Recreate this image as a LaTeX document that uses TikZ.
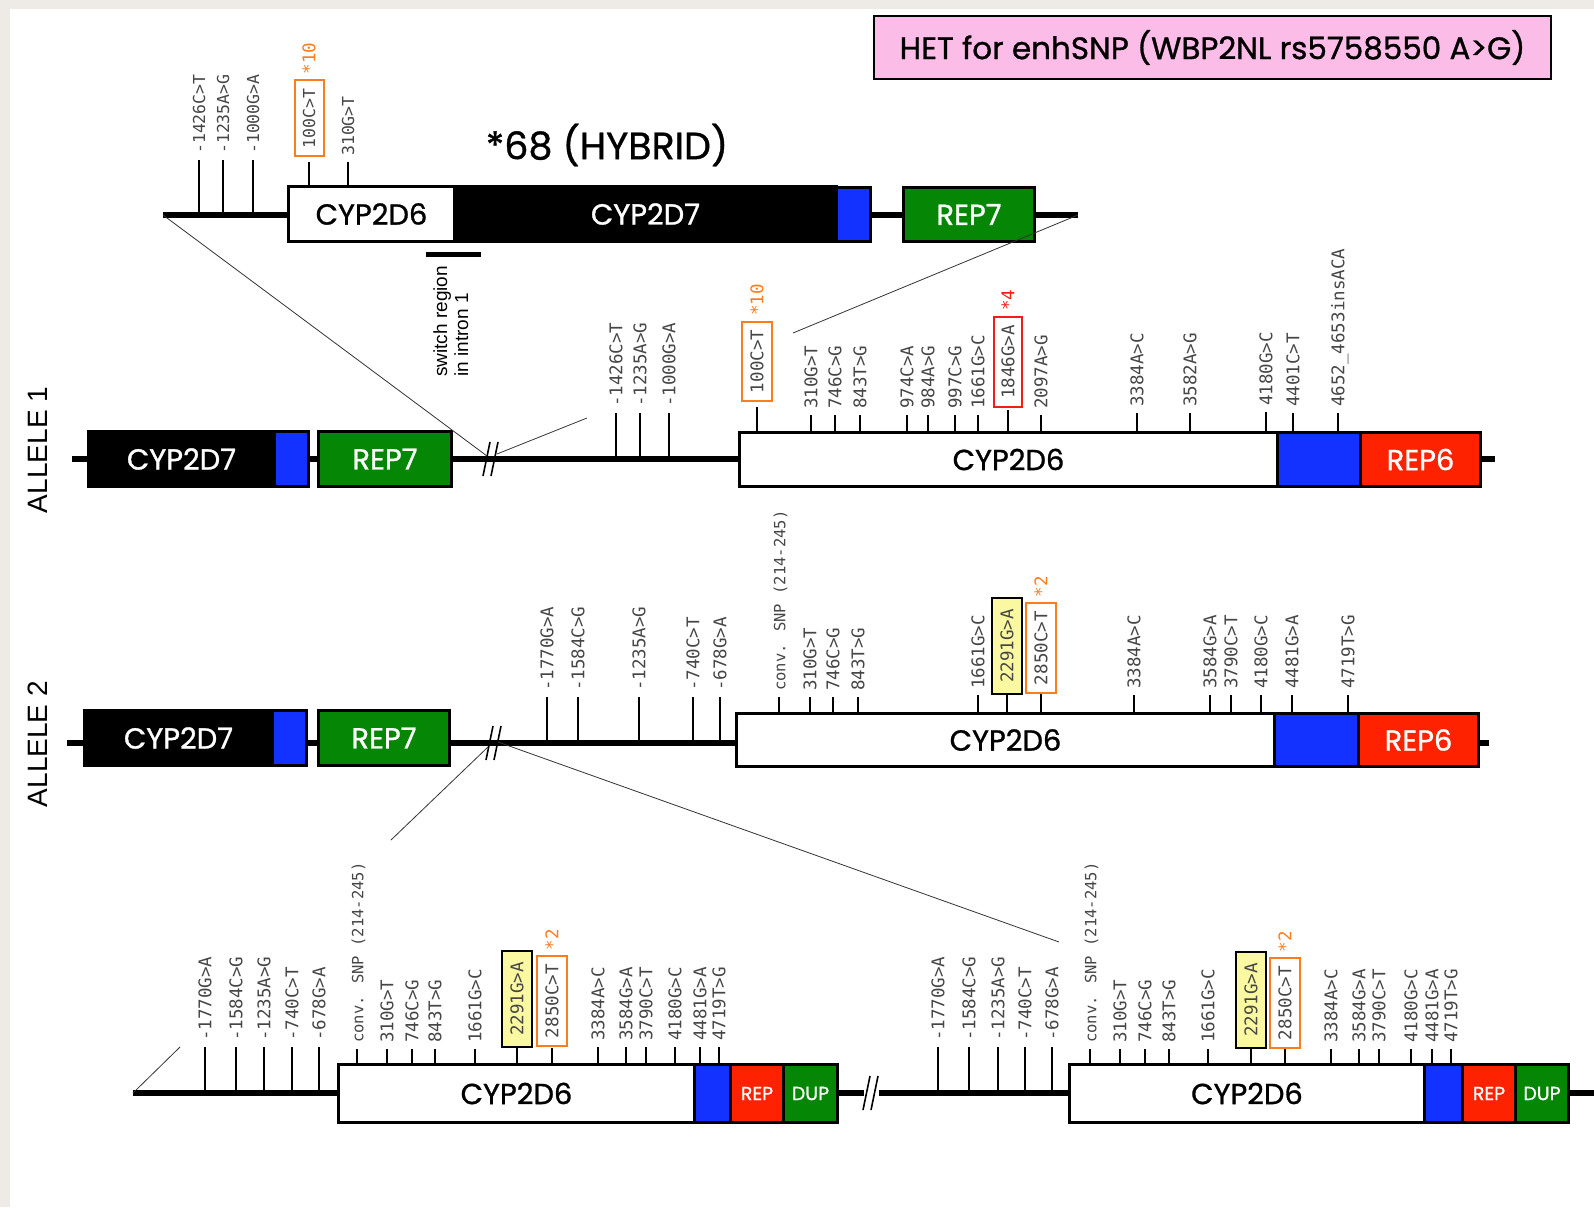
\documentclass[tikz,border=0pt]{standalone}
\usepackage{fontspec}
\newfontfamily\comic[FakeBold=1]{Poppins}
\newfontfamily\monof{DejaVu Sans Mono}
\newfontfamily\arialf{Liberation Sans}
\definecolor{blueC}{RGB}{20,50,255}
\definecolor{redC}{RGB}{255,34,0}
\definecolor{redB}{RGB}{240,30,20}
\definecolor{greenC}{RGB}{5,135,5}
\definecolor{orangeC}{RGB}{250,125,30}
\definecolor{yellowC}{RGB}{250,248,160}
\definecolor{pinkC}{RGB}{252,188,232}
\definecolor{labgray}{RGB}{70,70,70}
\definecolor{bgC}{RGB}{238,235,230}
\tikzset{
  backbone/.style={line width=5.5pt},
  conn/.style={line width=0.8pt, draw=black!80},
  tick/.style={line width=1.6pt},
  slash/.style={line width=1.6pt},
  snplab/.style={rotate=90, anchor=west, inner sep=0pt, text=labgray,
    font=\monof\fontsize{17.5}{17.5}\selectfont, text height=12.8pt, text depth=0pt},
  hfont/.style={font=\monof\fontsize{16.5}{16.5}\selectfont, text height=12pt},
  cfont/.style={font=\monof\fontsize{15.5}{15.5}\selectfont},
  starlab/.style={rotate=90, anchor=west, inner sep=0pt,
    font=\monof\fontsize{17.5}{17.5}\selectfont, text height=12.8pt, text depth=0pt},
  obox/.style={draw=orangeC, line width=2pt, inner xsep=8pt, inner ysep=8.5pt},
  rbox/.style={draw=redB, line width=2.2pt, inner xsep=8pt, inner ysep=7.5pt},
  ybox/.style={draw=black, fill=yellowC, line width=2.5pt, inner xsep=11pt, inner ysep=8.5pt},
  genebox/.style={draw=black, line width=3pt, inner sep=0pt, font=\comic\fontsize{29}{29}\selectfont},
  wbox/.style={genebox, fill=white},
  kbox/.style={genebox, fill=black, text=white},
  bbox/.style={genebox, fill=blueC},
  gbx/.style={genebox, fill=greenC, text=white},
  rbx/.style={genebox, fill=redC, text=white},
  smallg/.style={font=\comic\fontsize{19}{19}\selectfont},
  allele/.style={rotate=90, inner sep=0pt, font=\arialf\fontsize{28}{28}\selectfont},
  swlab/.style={rotate=90, anchor=base west, inner sep=0pt, font=\arialf\fontsize{19}{19}\selectfont}
}
\newcommand\gbox[7]{\node[#6, minimum width={(#4)-(#2)}, minimum height={(#5)-(#3)}, anchor=north west] (#1) at (#2,#3) {#7};}
\newcommand\snpA[4]{\draw[tick] (#1,#3) -- (#1,#2); \node[snplab] at (#1,#2-6) {#4};}
\newcommand\snpC[3]{\draw[tick] (#1,#3) -- (#1,#2); \node[snplab,cfont] at (#1,#2-6) {conv. SNP (214-245)};}
\newcommand\snpH[4]{\draw[tick] (#1,#3) -- (#1,#2); \node[snplab,hfont] at (#1,#2-6) {#4};}
\newcommand\snpB[6]{\draw[tick] (#1,#3) -- (#1,#2); \node[snplab,#5] (b#1) at (#1,#4) {#6};}
\newcommand\starB[3]{\node[starlab,text=#2] at ([yshift=5pt]b#1.east) {#3};}
\newcommand\slashes[2]{\draw[slash] (#1-8,#2+17) -- (#1-1,#2-17); \draw[slash] (#1,#2+17) -- (#1+7,#2-17);}
\begin{document}
\begin{tikzpicture}[x=1pt,y=-1pt]
\useasboundingbox (0,0) rectangle (1594,1207);
\fill[bgC] (0,0) rectangle (1594,1207);
\fill[white] (10,9) rectangle (1594,1207);

% ---------- header ----------
\node[draw, line width=2.5pt, fill=pinkC, minimum width=677pt, minimum height=63pt, inner sep=0pt,
  font=\comic\fontsize{31}{31}\selectfont] (het) at (1212.5,47.5) {HET for enhSNP (WBP2NL rs5758550 A>G)};
\node[font=\comic\fontsize{38}{38}\selectfont, inner sep=0pt] (title) at (607,145) {*68 (HYBRID)};

% ---------- hybrid ----------
\coordinate (hL) at (163,215);
\coordinate (hR) at (1078,215);
\draw[backbone] (hL) -- (hR);
\gbox{h6}{287}{185}{453}{240}{wbox}{CYP2D6}
\gbox{h7}{453}{185}{835}{240}{kbox}{CYP2D7}
\gbox{hb}{835}{186}{869}{240}{bbox}{}
\gbox{hrep}{902}{186}{1033}{240}{gbx}{REP7}
\snpH{199}{160}{215}{-1426C>T}
\snpH{223}{160}{215}{-1235A>G}
\snpH{253}{160}{215}{-1000G>A}
\snpH{348}{162}{185}{310G>T}
\draw[tick] (309,185) -- (309,162);
\node[snplab,hfont,obox,inner xsep=8pt,inner ysep=8.5pt] (b309) at (309,157) {100C>T};
\node[starlab,text=orangeC] at ([yshift=5pt]b309.east) {*10};
\draw[line width=5pt] (426,254.5) -- (481,254.5);
\node[swlab] (sw1) at (447,377) {switch region};
\node[swlab] (sw2) at (468,377) {in intron 1};

% ---------- allele 1 ----------
\node[allele] (al1) at (38,450) {ALLELE 1};
\coordinate (a1L) at (72,459);
\coordinate (a1R) at (1495,459);
\draw[backbone] (a1L) -- (a1R);
\gbox{a17}{87}{430}{273}{485}{kbox}{CYP2D7}
\gbox{a1b}{273}{430}{307}{485}{bbox}{}
\gbox{a1rep}{317}{430}{450}{485}{gbx}{REP7}
\gbox{a16}{738}{431}{1276}{485}{wbox}{CYP2D6}
\gbox{a1bb}{1276}{431}{1359}{485}{bbox}{}
\gbox{a1r6}{1359}{431}{1479}{485}{rbx}{REP6}
\slashes{491}{459}
\snpA{616}{413}{459}{-1426C>T}
\snpA{640}{413}{459}{-1235A>G}
\snpA{669}{413}{459}{-1000G>A}
\snpB{757}{407}{431}{402}{obox}{100C>T}
\starB{757}{orangeC}{*10}
\snpA{811}{415}{431}{310G>T}
\snpA{835}{415}{431}{746C>G}
\snpA{860}{415}{431}{843T>G}
\snpA{907}{415}{431}{974C>A}
\snpA{928}{415}{431}{984A>G}
\snpA{955}{415}{431}{997C>G}
\snpA{978}{415}{431}{1661G>C}
\snpB{1008}{410}{431}{408}{rbox}{1846G>A}
\starB{1008}{redB}{*4}
\snpA{1041}{415}{431}{2097A>G}
\snpA{1137}{413}{431}{3384A>C}
\snpA{1190}{413}{431}{3582A>G}
\snpA{1266}{412}{431}{4180G>C}
\snpA{1293}{413}{431}{4401C>T}
\snpA{1338}{413}{431}{4652\_4653insACA}

% ---------- allele 2 ----------
\node[allele] (al2) at (38,744) {ALLELE 2};
\coordinate (a2L) at (67,743);
\coordinate (a2R) at (1489,743);
\draw[backbone] (a2L) -- (a2R);
\gbox{a27}{83}{709}{271}{764}{kbox}{CYP2D7}
\gbox{a2b}{271}{709}{305}{764}{bbox}{}
\gbox{a2rep}{317}{709}{448}{764}{gbx}{REP7}
\gbox{a26}{735}{712}{1273}{765}{wbox}{CYP2D6}
\gbox{a2bb}{1273}{712}{1357}{765}{bbox}{}
\gbox{a2r6}{1357}{712}{1477}{765}{rbx}{REP6}
\slashes{494}{743}
\snpA{547}{697}{743}{-1770G>A}
\snpA{578}{697}{743}{-1584C>G}
\snpA{639}{697}{743}{-1235A>G}
\snpA{693}{697}{743}{-740C>T}
\snpA{720}{697}{743}{-678G>A}
\snpC{779}{697}{712}
\snpA{810}{697}{712}{310G>T}
\snpA{833}{697}{712}{746C>G}
\snpA{858}{697}{712}{843T>G}
\snpA{978}{695}{712}{1661G>C}
\snpB{1007}{695}{712}{695}{ybox}{2291G>A}
\snpB{1041}{694}{712}{694}{obox}{2850C>T}
\starB{1041}{orangeC}{*2}
\snpA{1134}{695}{712}{3384A>C}
\snpA{1210}{695}{712}{3584G>A}
\snpA{1231}{695}{712}{3790C>T}
\snpA{1261}{695}{712}{4180G>C}
\snpA{1292}{695}{712}{4481G>A}
\snpA{1348}{695}{712}{4719T>G}

% ---------- bottom (duplication) ----------
\coordinate (bL) at (133,1093);
\coordinate (bR) at (1594,1093);
\draw[backbone] (bL) -- (bR);
\gbox{d16}{337}{1063}{693}{1121}{wbox}{CYP2D6}
\gbox{d1b}{693}{1063}{729}{1121}{bbox}{}
\gbox{d1r}{729}{1063}{782}{1121}{rbx,smallg}{REP}
\gbox{d1d}{782}{1063}{836}{1121}{gbx,smallg}{DUP}
\gbox{d26}{1068}{1063}{1423}{1121}{wbox}{CYP2D6}
\gbox{d2b}{1423}{1063}{1461}{1121}{bbox}{}
\gbox{d2r}{1461}{1063}{1514}{1121}{rbx,smallg}{REP}
\gbox{d2d}{1514}{1063}{1567}{1121}{gbx,smallg}{DUP}
\fill[white] (864,1088) rectangle (879,1098);
\slashes{871}{1093}
% left gene
\snpA{205}{1047}{1093}{-1770G>A}
\snpA{236}{1047}{1093}{-1584C>G}
\snpA{264}{1047}{1093}{-1235A>G}
\snpA{292}{1047}{1093}{-740C>T}
\snpA{319}{1047}{1093}{-678G>A}
\snpC{357}{1049}{1063}
\snpA{387}{1049}{1063}{310G>T}
\snpA{412}{1049}{1063}{746C>G}
\snpA{435}{1049}{1063}{843T>G}
\snpA{475}{1049}{1063}{1661G>C}
\snpB{517}{1048}{1063}{1048}{ybox}{2291G>A}
\snpB{552}{1048}{1063}{1047}{obox}{2850C>T}
\starB{552}{orangeC}{*2}
\snpA{598}{1047}{1063}{3384A>C}
\snpA{626}{1047}{1063}{3584G>A}
\snpA{646}{1047}{1063}{3790C>T}
\snpA{675}{1047}{1063}{4180G>C}
\snpA{700}{1047}{1063}{4481G>A}
\snpA{719}{1047}{1063}{4719T>G}
% right gene
\snpA{938}{1047}{1093}{-1770G>A}
\snpA{969}{1047}{1093}{-1584C>G}
\snpA{998}{1047}{1093}{-1235A>G}
\snpA{1025}{1047}{1093}{-740C>T}
\snpA{1052}{1047}{1093}{-678G>A}
\snpC{1090}{1049}{1063}
\snpA{1120}{1049}{1063}{310G>T}
\snpA{1145}{1049}{1063}{746C>G}
\snpA{1169}{1049}{1063}{843T>G}
\snpA{1208}{1049}{1063}{1661G>C}
\snpB{1251}{1049}{1063}{1049}{ybox}{2291G>A}
\snpB{1285}{1049}{1063}{1049}{obox}{2850C>T}
\starB{1285}{orangeC}{*2}
\snpA{1331}{1049}{1063}{3384A>C}
\snpA{1359}{1049}{1063}{3584G>A}
\snpA{1379}{1049}{1063}{3790C>T}
\snpA{1411}{1049}{1063}{4180G>C}
\snpA{1432}{1049}{1063}{4481G>A}
\snpA{1451}{1049}{1063}{4719T>G}

% ---------- zoom connectors ----------
\coordinate (a1sl) at (487,456);
\coordinate (a1hr) at (793,333);
\coordinate (a1sr) at (497,454);
\coordinate (a1up) at (587,418);
\coordinate (a2sl) at (488,747);
\coordinate (a2dl) at (391,840);
\coordinate (a2sr) at (498,742);
\coordinate (a2dr) at (1059,942);
\coordinate (bU) at (180,1047);
\draw[conn] (hL) -- (a1sl);
\draw[conn] (hR) -- (a1hr);
\draw[conn] (a1sr) -- (a1up);
\draw[conn] (a2sl) -- (a2dl);
\draw[conn] (a2sr) -- (a2dr);
\draw[conn] (bL) -- (bU);
\end{tikzpicture}
\end{document}
